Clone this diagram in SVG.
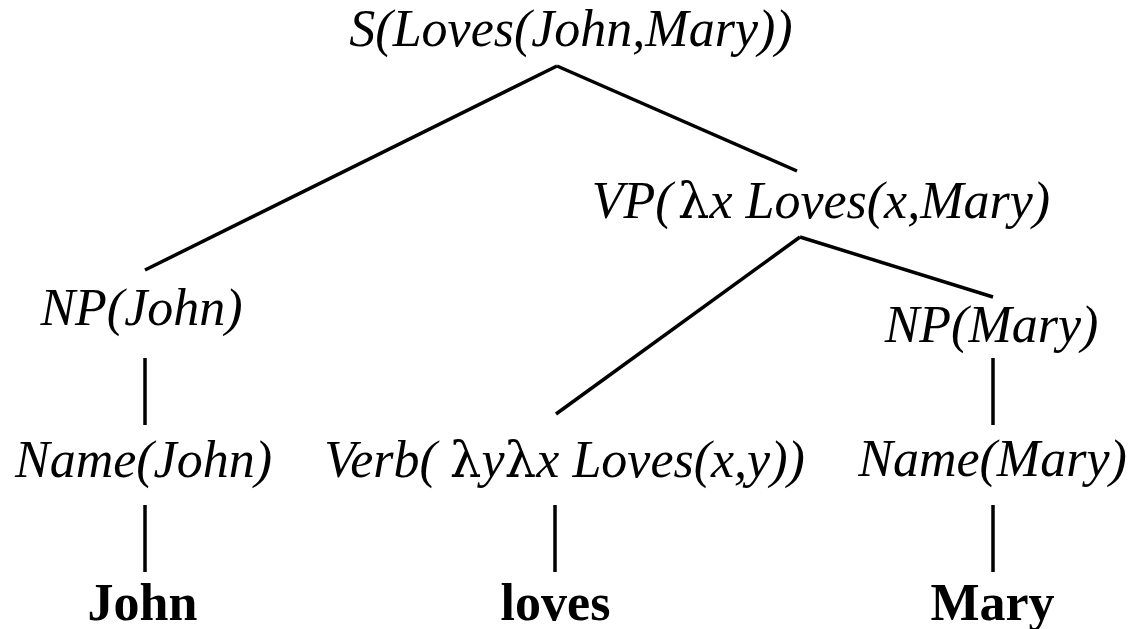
<svg xmlns="http://www.w3.org/2000/svg" width="1132" height="629" viewBox="0 0 1132 629">
<style>
.lbl{font-family:"Liberation Serif","Times New Roman",serif;font-size:52px;font-style:italic;fill:#000;text-anchor:middle}
.lam{font-family:"DejaVu Serif",serif;font-style:normal;font-size:50px}
.word{font-family:"Liberation Serif","Times New Roman",serif;font-size:52px;font-weight:bold;fill:#000;text-anchor:middle}
.edge{stroke:#000;stroke-width:3.5;fill:none;stroke-linecap:butt}
</style>
<rect width="1132" height="629" fill="#fff"/>
<g id="connectors">
<line class="edge" x1="557" y1="66" x2="145" y2="270"/>
<line class="edge" x1="557" y1="66" x2="797" y2="171"/>
<line class="edge" x1="800" y1="237" x2="556" y2="414"/>
<line class="edge" x1="800" y1="237" x2="993" y2="297"/>
<line class="edge" x1="145" y1="358" x2="145" y2="425"/>
<line class="edge" x1="145" y1="505" x2="145" y2="572"/>
<line class="edge" x1="555" y1="505" x2="555" y2="572"/>
<line class="edge" x1="993" y1="358" x2="993" y2="425"/>
<line class="edge" x1="993" y1="505" x2="993" y2="572"/>
</g>
<g id="node-S"><text class="lbl" x="571" y="46">S(Loves(John,Mary))</text></g>
<g id="node-VP"><text class="lbl" x="821" y="218">VP(<tspan class="lam" dx="5">λ</tspan>x Loves(x,Mary)</text></g>
<g id="node-NP-John"><text class="lbl" x="141.5" y="325">NP(John)</text></g>
<g id="node-NP-Mary"><text class="lbl" x="991.5" y="342">NP(Mary)</text></g>
<g id="node-Name-John"><text class="lbl" x="143.5" y="477">Name(John)</text></g>
<g id="node-Verb"><text class="lbl" x="564.5" y="477">Verb( <tspan class="lam">λ</tspan>y<tspan class="lam">λ</tspan>x Loves(x,y))</text></g>
<g id="node-Name-Mary"><text class="lbl" x="992.5" y="476">Name(Mary)</text></g>
<g id="word-John"><text class="word" x="142.5" y="620">John</text></g>
<g id="word-loves"><text class="word" x="555.5" y="620">loves</text></g>
<g id="word-Mary"><text class="word" x="992.5" y="620">Mary</text></g>
</svg>
